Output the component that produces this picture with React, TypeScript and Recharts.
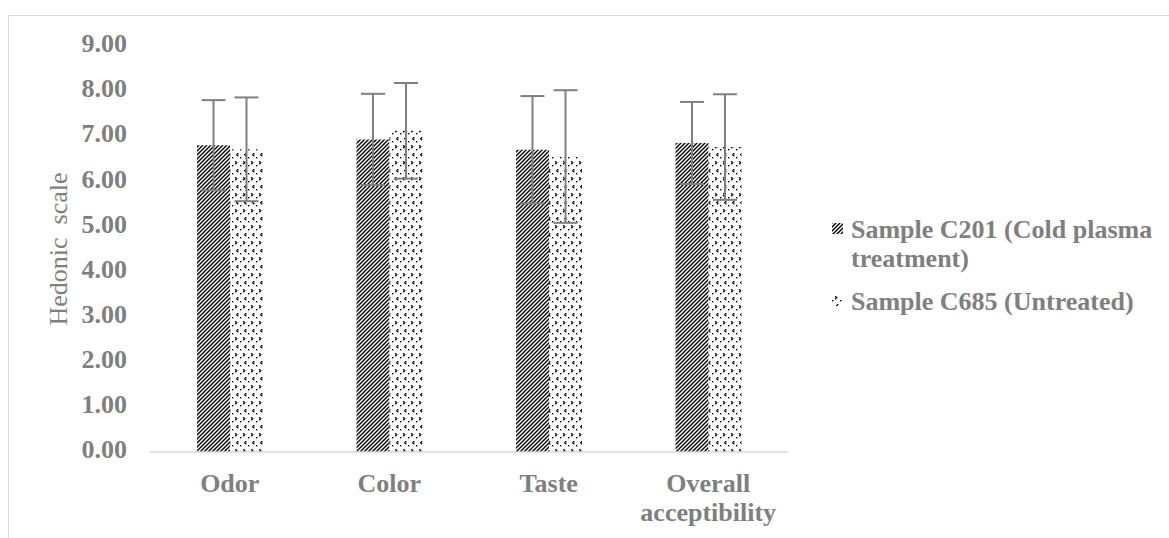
import { Bar, BarChart, ErrorBar, Legend, XAxis, YAxis } from "recharts";

const categories = ["Odor", "Color", "Taste", "Overall acceptibility"];
const c201Means = [6.8, 6.93, 6.7, 6.85];
const c201Errors = [1.0, 1.01, 1.19, 0.91];
const c685Means = [6.71, 7.12, 6.55, 6.76];
const c685Errors = [1.15, 1.06, 1.47, 1.17];
const yTicks = [0, 1, 2, 3, 4, 5, 6, 7, 8, 9];

const seriesNames: Record<string, string> = {
  c201: "Sample C201 (Cold plasma treatment)",
  c685: "Sample C685 (Untreated)",
};

const data = categories.map((name, i) => ({
  name,
  c201: c201Means[i],
  c201Err: c201Errors[i],
  c685: c685Means[i],
  c685Err: c685Errors[i],
}));

const GRAY = "#7f7f7f";
const FONT = '"Liberation Serif", "Times New Roman", serif';

function Patterns({ suffix = "" }: { suffix?: string }) {
  // confetti-like marks, roughly like the Excel fill
  const marks: [number, number][] = [
    [3, 1], [4, 2], [3, 3],
    [11, 1], [12, 2], [11, 3],
    [8, 5], [0, 5],
    [5, 9], [4, 10], [5, 11],
    [13, 9], [12, 10], [13, 11],
    [8, 13], [0, 13],
  ];
  return (
    <defs>
      <pattern id={`hatch${suffix}`} width="4" height="4" patternUnits="userSpaceOnUse">
        <rect width="4" height="4" fill="#fff" />
        <path d="M-1,1 l2,-2 M0,4 l4,-4 M3,5 l2,-2" stroke="#000" strokeWidth="1.4" />
      </pattern>
      <pattern id={`dots${suffix}`} width="16" height="16" patternUnits="userSpaceOnUse">
        <rect width="16" height="16" fill="#fff" />
        {marks.map(([x, y], i) => (
          <rect key={i} x={x} y={y} width="1.4" height="1.4" fill="#000" />
        ))}
      </pattern>
    </defs>
  );
}

function CategoryTick({ x, y, payload }: any) {
  const words = String(payload.value).split(" ");
  return (
    <text x={x} y={y + 40} textAnchor="middle" fill={GRAY} fontFamily={FONT} fontSize={26} fontWeight="bold">
      {words.map((w, i) => (
        <tspan key={w} x={x} dy={i === 0 ? 0 : 29}>
          {w}
        </tspan>
      ))}
    </text>
  );
}

function AxisTitle({ viewBox }: any) {
  const cx = (viewBox?.x ?? 0) + 67;
  const cy = (viewBox?.y ?? 46) + (viewBox?.height ?? 406) / 2;
  return (
    <text
      x={cx}
      y={cy}
      transform={`rotate(-90, ${cx}, ${cy})`}
      textAnchor="middle"
      fill={GRAY}
      fontFamily={FONT}
      fontSize={26}
      style={{ whiteSpace: "pre" }}
    >
      {"Hedonic  scale"}
    </text>
  );
}

function LegendBox({ payload }: any) {
  return (
    <div style={{ fontFamily: FONT, fontSize: 26, fontWeight: "bold", color: GRAY, lineHeight: "29px" }}>
      <svg width="0" height="0" style={{ position: "absolute" }}>
        <Patterns suffix="L" />
      </svg>
      {(payload ?? []).map((entry: any, i: number) => (
        <div key={entry.dataKey} style={{ display: "flex", alignItems: "flex-start", marginTop: i === 0 ? 0 : 14 }}>
          <svg width="11" height="11" style={{ marginTop: 8, marginRight: 8, flex: "none" }}>
            <rect width="11" height="11" fill={entry.dataKey === "c201" ? "url(#hatchL)" : "url(#dotsL)"} />
          </svg>
          <div style={{ width: 315 }}>{seriesNames[entry.dataKey]}</div>
        </div>
      ))}
    </div>
  );
}

export default function App() {
  return (
    <div style={{ position: "absolute", left: 0, top: 0, width: 1169, height: 538, background: "#fff", overflow: "hidden" }}>
      <div
        style={{
          position: "absolute",
          left: 8,
          top: 15,
          width: 1200,
          height: 600,
          borderLeft: "1px solid #d9d9d9",
          borderTop: "1px solid #d9d9d9",
        }}
      />
      <div style={{ position: "absolute", left: 0, top: 0 }}>
        <BarChart
          width={1169}
          height={538}
          data={data}
          margin={{ top: 46, right: 381, bottom: 0, left: 0 }}
          barGap={0}
          barSize={33}
        >
          <Patterns />
          <XAxis
            dataKey="name"
            height={86}
            tickLine={false}
            tickSize={0}
            tickMargin={0}
            axisLine={{ stroke: "#d9d9d9", strokeWidth: 1.5 }}
            tick={<CategoryTick />}
            interval={0}
          />
          <YAxis
            width={150}
            domain={[0, 9]}
            ticks={yTicks}
            axisLine={false}
            tickLine={false}
            tickSize={0}
            tickMargin={23}
            tickFormatter={(v: number) => v.toFixed(2)}
            tick={{ fill: GRAY, fontFamily: FONT, fontSize: 26, fontWeight: "bold", dy: -3 }}
            label={<AxisTitle />}
          />
          <Legend
            layout="vertical"
            align="center"
            verticalAlign="middle"
            wrapperStyle={{ left: 832, top: 215, width: 337 }}
            content={<LegendBox />}
          />
          <Bar dataKey="c201" name={seriesNames.c201} fill="url(#hatch)" isAnimationActive={false}>
            <ErrorBar dataKey="c201Err" direction="y" width={12} stroke={GRAY} strokeWidth={2} isAnimationActive={false} />
          </Bar>
          <Bar dataKey="c685" name={seriesNames.c685} fill="url(#dots)" isAnimationActive={false}>
            <ErrorBar dataKey="c685Err" direction="y" width={12} stroke={GRAY} strokeWidth={2} isAnimationActive={false} />
          </Bar>
        </BarChart>
      </div>
    </div>
  );
}
